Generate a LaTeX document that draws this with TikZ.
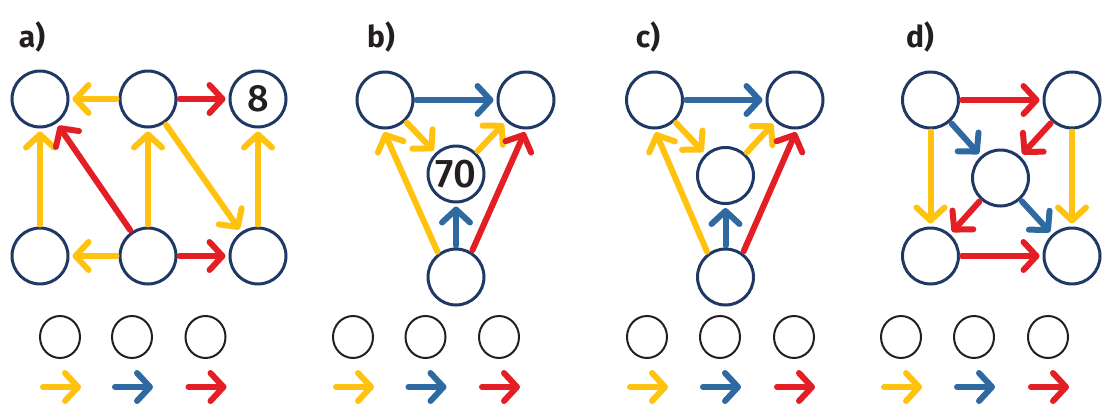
\documentclass[tikz,border=0pt]{standalone}
\usepackage{fontspec}
\setmainfont{Fira Sans}
\newfontfamily\digfont{Fira Sans Medium}
\usetikzlibrary{arrows.meta,shapes.geometric}
\definecolor{navy}{RGB}{31,56,100}
\definecolor{cy}{RGB}{255,194,14}
\definecolor{cb}{RGB}{46,106,161}
\definecolor{cr}{RGB}{227,30,36}
\definecolor{ink}{RGB}{35,31,32}
\tikzset{
  x=1pt,y=-1pt,
  vtx/.style={circle,draw=navy,line width=3pt,minimum size=56pt,inner sep=0pt,
    font=\digfont\fontsize{38}{38}\selectfont,text=ink},
  lgd/.style={ellipse,draw=ink,line width=2pt,minimum width=40pt,minimum height=42pt,inner sep=0pt},
  arr/.style={line width=6pt,line cap=round,
    -{Straight Barb[length=13pt,width=28pt,round]},shorten <=2pt,shorten >=3pt},
  ay/.style={arr,draw=cy},
  ab/.style={arr,draw=cb},
  ar/.style={arr,draw=cr},
  larr/.style={line width=6pt,line cap=round,-{Straight Barb[length=13pt,width=28pt,round]}},
  lab/.style={font=\fontsize{30}{30}\selectfont\bfseries,text=ink}
}
\begin{document}
\begin{tikzpicture}
\useasboundingbox (0,0) rectangle (1114,418);
% labels
\node[lab] (la) at (32,37) {a)};
\node[lab] (lb) at (381,37) {b)};
\node[lab] (lc) at (648,37) {c)};
\node[lab] (ld) at (920,37) {d)};

% panel a
\node[vtx] (a1) at (40,99) {};
\node[vtx] (a2) at (148,99) {};
\node[vtx] (a3) at (258,99) {8};
\node[vtx] (a4) at (40,256) {};
\node[vtx] (a5) at (148,256) {};
\node[vtx] (a6) at (258,256) {};
\draw[ay] (a2) -- (a1);
\draw[ar] (a2) -- (a3);
\draw[ay] (a4) -- (a1);
\draw[ar] (a5) -- (a1);
\draw[ay] (a5) -- (a2);
\draw[ay] (a2) -- (a6);
\draw[ay] (a6) -- (a3);
\draw[ay] (a5) -- (a4);
\draw[ar] (a5) -- (a6);

% panel b
\node[vtx] (b1) at (385,100) {};
\node[vtx] (b2) at (526,100) {};
\node[vtx,font=\digfont\fontsize{40}{40}\selectfont] (b3) at (456,174) {70};
\node[vtx] (b4) at (456,277) {};
\draw[ab] (b1) -- (b2);
\draw[ay] (b1) -- (b3);
\draw[ay] (b3) -- (b2);
\draw[ab] (b4) -- (b3);
\draw[ay] (b4.127) -- (b1.-94);
\draw[ar] (b4.58) -- (b2.-90);

% panel c
\node[vtx] (c1) at (654.5,100) {};
\node[vtx] (c2) at (795,100) {};
\node[vtx] (c3) at (725.5,175.5) {};
\node[vtx] (c4) at (725.5,277) {};
\draw[ab] (c1) -- (c2);
\draw[ay] (c1) -- (c3);
\draw[ay] (c3) -- (c2);
\draw[ab] (c4) -- (c3);
\draw[ay] (c4.127) -- (c1.-90);
\draw[ar] (c4.54) -- (c2.-86);

% panel d
\node[vtx] (d1) at (930.5,100) {};
\node[vtx] (d2) at (1072,100) {};
\node[vtx] (d3) at (1000.5,178) {};
\node[vtx] (d4) at (930.5,256) {};
\node[vtx] (d5) at (1072,256) {};
\draw[ar] (d1) -- (d2);
\draw[ay] (d1) -- (d4);
\draw[ay] (d2) -- (d5);
\draw[ab] (d1) -- (d3);
\draw[ar] (d2) -- (d3);
\draw[ar] (d3) -- (d4);
\draw[ab] (d3) -- (d5);
\draw[ar] (d4) -- (d5);

% legends
\foreach \n/\x/\c in {la1/60/cy,la2/132/cb,la3/205.5/cr,
                      lb1/353/cy,lb2/425.5/cb,lb3/499/cr,
                      lc1/647/cy,lc2/720/cb,lc3/794/cr,
                      ld1/901/cy,ld2/974/cb,ld3/1048/cr}{
  \node[lgd] (\n) at (\x,337) {};
  \draw[larr,draw=\c] (\x-17,387) -- (\x+21,387);
}
\end{tikzpicture}
\end{document}
